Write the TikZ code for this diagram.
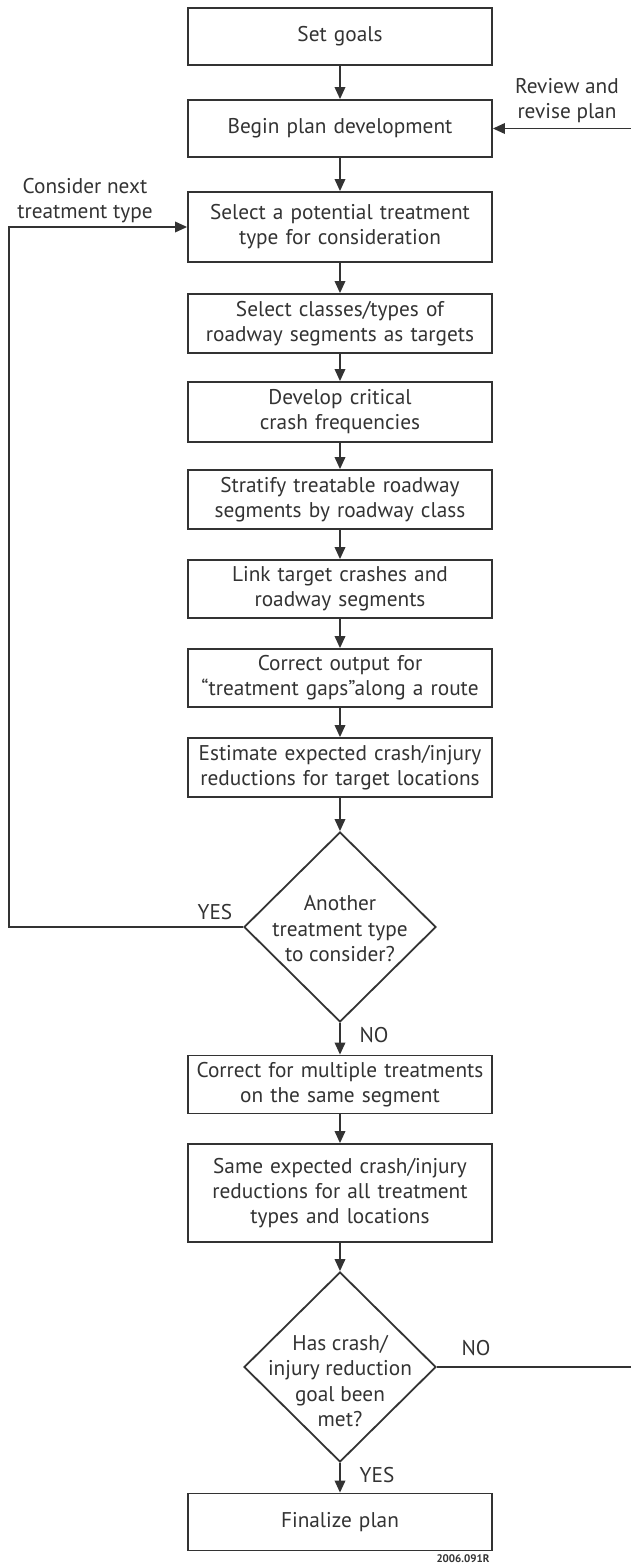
\documentclass[tikz,border=0pt]{standalone}
\usepackage{fontspec}
\setmainfont{PT Sans}
\usetikzlibrary{arrows.meta}
\usetikzlibrary{shapes.geometric}
\definecolor{inkgray}{HTML}{333333}
\tikzstyle{stepbox}=[draw=inkgray,line width=1.8pt,rectangle,minimum width=304pt,text width=300pt,align=center,inner sep=0pt,text=inkgray,font=\fontsize{21.3}{25}\selectfont]
\tikzstyle{decision}=[draw=inkgray,line width=1.8pt,diamond,minimum width=192pt,minimum height=190pt,inner sep=0pt]
\tikzstyle{decisiontext}=[align=center,text=inkgray,font=\fontsize{21.3}{25.5}\selectfont]
\tikzstyle{flow}=[-{Triangle[length=12pt,width=10.5pt]},draw=inkgray,line width=1.8pt]
\tikzstyle{note}=[align=center,text=inkgray,font=\fontsize{21.3}{25}\selectfont]
\pgfmathsetmacro{\midx}{340}

\begin{document}
\begin{tikzpicture}[x=1pt,y=-1pt]
  \useasboundingbox[fill=white] (0,0) rectangle (631,1566);
  % main column
  \node[stepbox,minimum height=57pt] (goals) at (\midx,36.5) {Set goals};
  \node[stepbox,minimum height=57pt] (begin) at (\midx,128.5) {Begin plan development};
  \node[stepbox,minimum height=70pt] (pick) at (\midx,227) {Select a potential treatment\\type for consideration};
  \node[stepbox,minimum height=59pt] (classes) at (\midx,323.5) {Select classes/types of\\roadway segments as targets};
  \node[stepbox,minimum height=60pt] (critical) at (\midx,412) {Develop critical\\crash frequencies};
  \node[stepbox,minimum height=59pt] (stratify) at (\midx,499.5) {Stratify treatable roadway\\segments by roadway class};
  \node[stepbox,minimum height=58pt] (link) at (\midx,589) {Link target crashes and\\roadway segments};
  \node[stepbox,minimum height=58pt] (gaps) at (\midx,678) {Correct output for\\``treatment gaps''\kern-1pt along a route};
  \node[stepbox,minimum height=59pt] (estimate) at (\midx,767.5) {Estimate expected crash/injury\\reductions for target locations};
  \node[decision] (another) at (\midx,927) {};
  \node[decisiontext] (anothertext) at (\midx,929) {Another\\treatment type\\to consider?};
  \node[stepbox,minimum height=58pt] (multiple) at (\midx,1084.5) {Correct for multiple treatments\\on the same segment};
  \node[stepbox,minimum height=98pt] (same) at (\midx,1193) {Same expected crash/injury\\reductions for all treatment\\types and locations};
  \node[decision] (goalmet) at (\midx,1367) {};
  \node[decisiontext] (goalmettext) at (\midx,1381) {Has crash/\\injury reduction\\goal been\\met?};
  \node[stepbox,minimum height=57pt] (final) at (\midx,1522) {Finalize plan};

  % straight arrows down the column
  \foreach \a/\b in {goals/begin,begin/pick,pick/classes,classes/critical,critical/stratify,stratify/link,link/gaps,gaps/estimate,estimate/another,another/multiple,multiple/same,same/goalmet,goalmet/final}
    \draw[flow] (\a) -- (\b);

  % loops
  \coordinate (leftrun) at (9,927);
  \coordinate (rightrun) at (633,1367);
  \draw[flow] (another.west) -- (leftrun) |- (pick.west);
  \draw[flow] (goalmet.east) -- (rightrun) |- (begin.east);

  % labels
  \node[note] (consider) at (85,201) {Consider next\\treatment type};
  \node[note] (review) at (567,101) {Review and\\revise plan};
  \node[note] (yesone) at (215,912) {YES};
  \node[note] (noone) at (374,1035) {NO};
  \node[note] (notwo) at (476,1348) {NO};
  \node[note] (yestwo) at (377,1475) {YES};
  \node[text=inkgray,font=\fontsize{11}{12}\selectfont\bfseries] (code) at (463,1559) {2006.091R};
\end{tikzpicture}
\end{document}
